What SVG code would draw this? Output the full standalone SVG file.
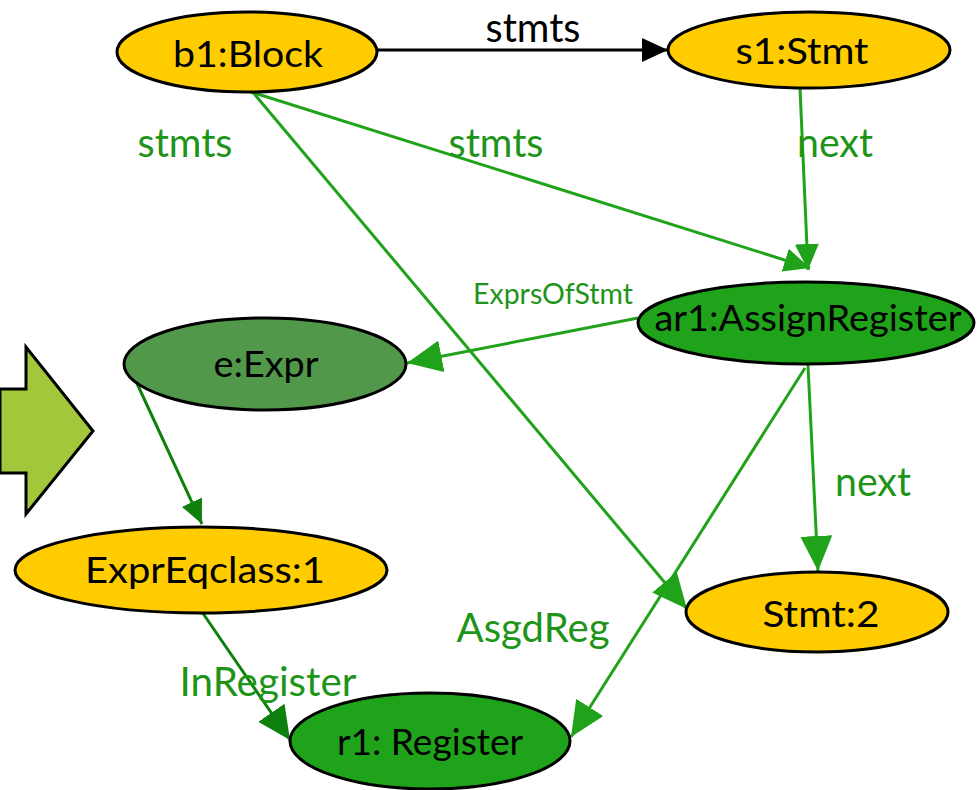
<svg xmlns="http://www.w3.org/2000/svg" width="977" height="790" viewBox="0 0 977 790">
<style>
.n{stroke:#000;stroke-width:3}
.y{fill:#ffcc00}.g{fill:#1fa31a}.e{fill:#52984a}
.t{font-family:Lato,"Open Sans",sans-serif;font-size:37px;text-anchor:middle;fill:#000}
.l{font-family:Lato,"Open Sans",sans-serif;font-size:40px;text-anchor:middle;fill:#1e9418}
.c{stroke:#20a31a;stroke-width:3;fill:none;marker-end:url(#ag)}
.cb{stroke:#20a31a;stroke-width:3;fill:none;marker-end:url(#agb)}
.d{stroke:#0d800d;stroke-width:3;fill:none;marker-end:url(#ad)}
.db{stroke:#0d800d;stroke-width:3;fill:none;marker-end:url(#adb)}
</style>
<defs>
<marker id="ag" markerUnits="userSpaceOnUse" markerWidth="26" markerHeight="24" refX="26" refY="12" orient="auto"><path d="M0,0L26,12L0,24z" fill="#20a31a"/></marker>
<marker id="agb" markerUnits="userSpaceOnUse" markerWidth="35" markerHeight="32" refX="35" refY="16" orient="auto"><path d="M0,0L35,16L0,32z" fill="#20a31a"/></marker>
<marker id="ad" markerUnits="userSpaceOnUse" markerWidth="24" markerHeight="22" refX="24" refY="11" orient="auto"><path d="M0,0L24,11L0,22z" fill="#0d800d"/></marker>
<marker id="adb" markerUnits="userSpaceOnUse" markerWidth="33" markerHeight="32" refX="33" refY="16" orient="auto"><path d="M0,0L33,16L0,32z" fill="#0d800d"/></marker>
<marker id="ab" markerUnits="userSpaceOnUse" markerWidth="26" markerHeight="24" refX="26" refY="12" orient="auto"><path d="M0,0L26,12L0,24z" fill="#000"/></marker>
</defs>
<polygon points="0,389 26,389 26,347 93,431 26,514 26,473 0,473" fill="#a2c73a" stroke="#000" stroke-width="3"/>
<g id="connectors">
<line x1="378" y1="50" x2="668" y2="50" stroke="#000" stroke-width="3" marker-end="url(#ab)"/>
<line class="c" x1="251" y1="92" x2="810" y2="268"/>
<line class="cb" x1="251" y1="90" x2="687" y2="609"/>
<line class="c" x1="800" y1="88" x2="808" y2="270"/>
<line class="cb" x1="638" y1="318" x2="407" y2="363"/>
<line class="cb" x1="808" y1="365" x2="818" y2="571"/>
<line class="cb" x1="805" y1="368" x2="571" y2="737"/>
<line class="d" x1="128" y1="364" x2="202" y2="524"/>
<line class="db" x1="202" y1="612" x2="290" y2="740"/>
<text class="l" x="533" y="42" style="fill:#000" textLength="95" lengthAdjust="spacingAndGlyphs">stmts</text>
<text class="l" x="185" y="157" textLength="95" lengthAdjust="spacingAndGlyphs">stmts</text>
<text class="l" x="496" y="157" textLength="95" lengthAdjust="spacingAndGlyphs">stmts</text>
<text class="l" x="835" y="157" textLength="76" lengthAdjust="spacingAndGlyphs">next</text>
<text class="l" x="873" y="496" textLength="76" lengthAdjust="spacingAndGlyphs">next</text>
<text class="l" x="533" y="642" textLength="153" lengthAdjust="spacingAndGlyphs">AsgdReg</text>
<text class="l" x="268" y="696" textLength="177" lengthAdjust="spacingAndGlyphs">InRegister</text>
<text class="l" x="553" y="304" style="font-size:28px" textLength="160" lengthAdjust="spacingAndGlyphs">ExprsOfStmt</text>
</g>
<g id="b1"><ellipse class="n y" cx="247" cy="52" rx="130" ry="40"/><text class="t" x="248" y="67" textLength="150" lengthAdjust="spacingAndGlyphs">b1:Block</text></g>
<g id="s1"><ellipse class="n y" cx="809" cy="50" rx="141" ry="38"/><text class="t" x="802" y="64" textLength="133" lengthAdjust="spacingAndGlyphs">s1:Stmt</text></g>
<g id="ar1"><ellipse class="n g" cx="806" cy="323" rx="168" ry="41"/><text class="t" x="808" y="331" textLength="307" lengthAdjust="spacingAndGlyphs">ar1:AssignRegister</text></g>
<g id="e"><ellipse class="n e" cx="265" cy="364" rx="141" ry="46"/><text class="t" x="266" y="377" textLength="105" lengthAdjust="spacingAndGlyphs">e:Expr</text></g>
<g id="eq"><ellipse class="n y" cx="201" cy="570" rx="186" ry="43"/><text class="t" x="205" y="583" textLength="240" lengthAdjust="spacingAndGlyphs">ExprEqclass:1</text></g>
<g id="stmt2"><ellipse class="n y" cx="817" cy="612" rx="131" ry="40"/><text class="t" x="821" y="627" textLength="117" lengthAdjust="spacingAndGlyphs">Stmt:2</text></g>
<g id="r1"><ellipse class="n g" cx="430" cy="741" rx="140" ry="48"/><text class="t" x="430" y="755" textLength="186" lengthAdjust="spacingAndGlyphs">r1: Register</text></g>
</svg>
